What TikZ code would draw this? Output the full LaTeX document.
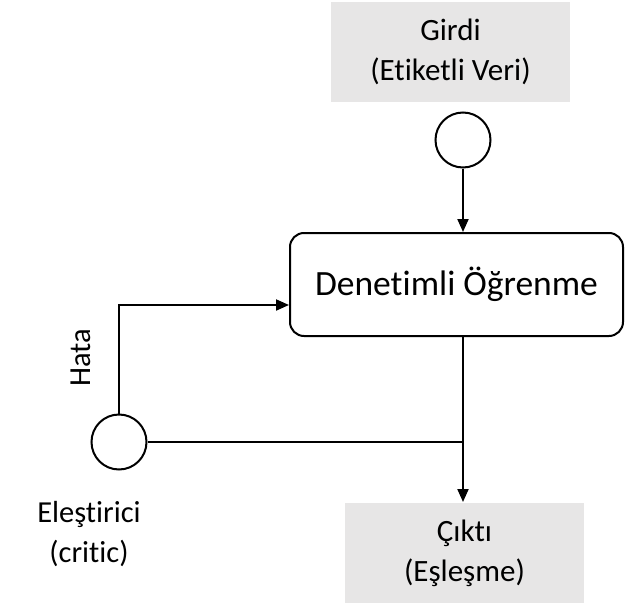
\documentclass[tikz,border=0pt]{standalone}
\usepackage{fontspec}
\setmainfont[Ligatures={NoCommon}]{Carlito}
\usetikzlibrary{arrows.meta}
\definecolor{boxgray}{HTML}{E7E6E6}
\begin{document}
\begin{tikzpicture}[x=1pt,y=-1pt,
  line width=2pt,
  databox/.style={fill=boxgray,draw=none,minimum width=239pt,minimum height=100pt,
    align=center,font=\fontsize{31}{40}\selectfont,inner sep=0pt},
  port/.style={circle,draw,fill=white,minimum size=55pt,inner sep=0pt},
  learner/.style={draw,rounded corners=14pt,minimum width=333pt,minimum height=103pt,
    font=\fontsize{35.5}{40}\selectfont,inner sep=0pt},
  flow/.style={-{Triangle[length=13pt,width=11pt]}},
  plain/.style={font=\fontsize{30.5}{40}\selectfont,align=center,inner sep=0pt}]
\useasboundingbox (0,0) rectangle (625,608);

% input, learner and output blocks
\node[databox] (in) at (450.5,52) {Girdi\\(Etiketli Veri)};
\node[port] (inport) at (463,140) {};
\node[learner] (learn) at (456.5,284.5) {Denetimli Öğrenme};
\node[databox] (out) at (464.5,553) {Çıktı\\(Eşleşme)};

% critic
\node[port] (critic) at (119,442) {};
\node[plain] (criticlbl) at (89,534) {Eleştirici\\(critic)};

% connectors
\coordinate (tap) at (463,442);
\coordinate (bend) at (119,305);
\draw[flow] (inport) -- (inport |- learn.north);
\draw[flow] (learn.south -| tap) -- (tap) -- (out.north -| tap);
\draw (critic) -- (tap);
\draw[flow] (critic) -- (bend) -- (bend -| learn.west);
\node[plain,rotate=90] (err) at (81,358) {Hata};
\end{tikzpicture}
\end{document}
